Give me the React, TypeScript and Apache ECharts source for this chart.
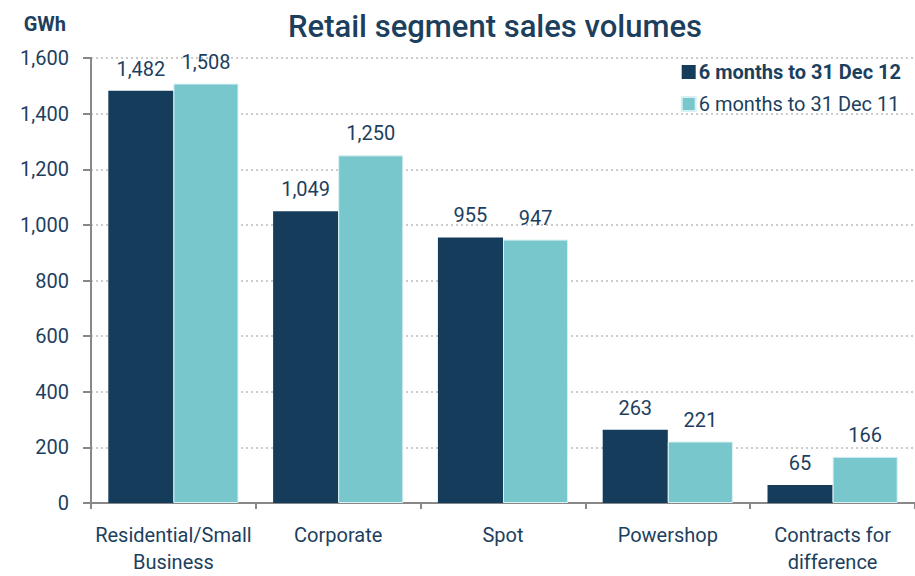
import React, { useEffect, useRef } from "react";
import * as echarts from "echarts";

const categories = ["Residential/Small\nBusiness", "Corporate", "Spot", "Powershop", "Contracts for\ndifference"];
const dec12 = [1482, 1049, 955, 263, 65];
const dec11 = [1508, 1250, 947, 221, 166];
const seriesNames = ["6 months to 31 Dec 12", "6 months to 31 Dec 11"];

const FONT = "'Liberation Sans Narrow', 'Arial Narrow', 'Roboto', sans-serif";
const TXT = "#1d3f5e";

export default function App() {
  const ref = useRef<HTMLDivElement>(null);
  useEffect(() => {
    const chart = echarts.init(ref.current!, null, { renderer: "svg" });
    const labelStyle = {
      show: true,
      position: "top" as const,
      distance: 12,
      color: TXT,
      fontSize: 20,
      fontFamily: FONT,
      formatter: (p: any) => p.value.toLocaleString("en-US"),
    };
    chart.setOption({
      animation: false,
      textStyle: { fontFamily: FONT },
      title: {
        text: "Retail segment sales volumes",
        left: 490,
        top: 6,
        textAlign: "center",
        textStyle: { fontFamily: FONT, fontSize: 31, fontWeight: 500, color: TXT },
      },
      legend: {
        right: 9,
        top: 57,
        orient: "vertical",
        itemWidth: 14,
        itemHeight: 14,
        itemGap: 12,
        icon: "rect",
        textStyle: { fontFamily: FONT, fontSize: 20, color: TXT, padding: [0, 0, 0, -2] },
        data: [
          { name: seriesNames[0], textStyle: { fontWeight: "bold" } },
          { name: seriesNames[1] },
        ],
      },
      grid: { left: 91, right: 0, top: 58, bottom: 73, containLabel: false, outerBoundsMode: "none" },
      xAxis: {
        type: "category",
        data: categories,
        axisLine: { lineStyle: { color: "#888", width: 2 } },
        axisTick: { show: true, length: 6, lineStyle: { color: "#888", width: 2 } },
        axisLabel: { interval: 0, color: TXT, fontSize: 20, fontFamily: FONT, margin: 18, lineHeight: 27 },
      },
      yAxis: {
        type: "value",
        min: 0,
        max: 1600,
        interval: 200,
        name: "GWh",
        nameLocation: "end",
        nameGap: 24,
        nameTextStyle: { color: TXT, fontSize: 20, fontWeight: "bold", fontFamily: FONT, align: "right", padding: [0, 25, 0, 0] },
        axisLine: { show: true, lineStyle: { color: "#888", width: 2 } },
        axisTick: { show: true, length: 8, lineStyle: { color: "#888", width: 2 } },
        axisLabel: { color: TXT, fontSize: 20, fontFamily: FONT, margin: 22, formatter: (v: number) => v.toLocaleString("en-US") },
        splitLine: { lineStyle: { color: "#bbb", type: [2, 3], width: 1.5 } },
      },
      series: [
        {
          name: seriesNames[0],
          type: "bar",
          data: dec12,
          barGap: "0%",
          barCategoryGap: "21%",
          itemStyle: { color: "#163c5c" },
          label: labelStyle,
        },
        {
          name: seriesNames[1],
          type: "bar",
          data: dec11,
          itemStyle: { color: "#78c7cc", borderColor: "#d8f0f2", borderWidth: 1 },
          label: labelStyle,
        },
      ],
    });
    return () => chart.dispose();
  }, []);
  return <div ref={ref} style={{ position: "fixed", left: 0, top: 0, width: 915, height: 576, background: "#fff" }} />;
}
